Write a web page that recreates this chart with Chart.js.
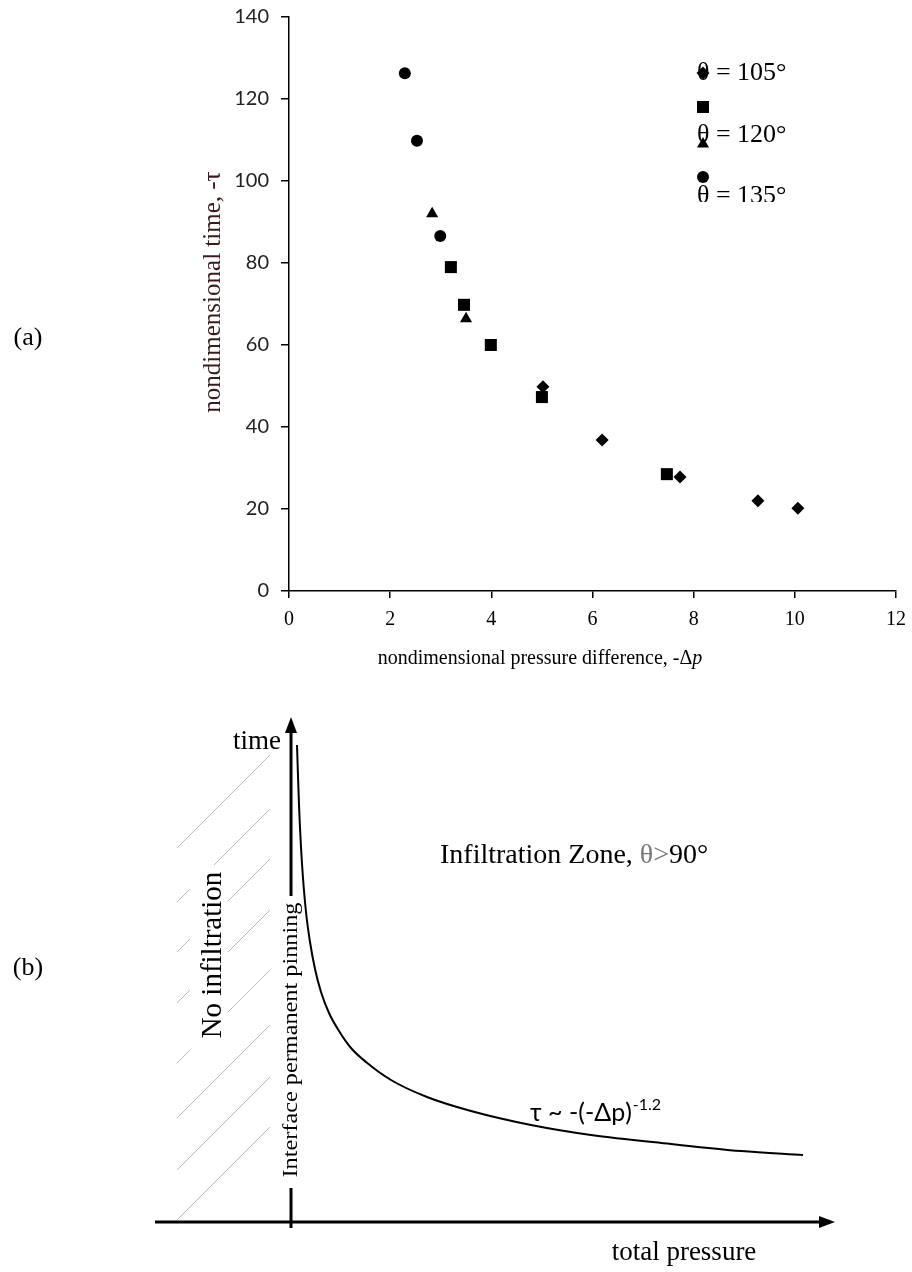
<!DOCTYPE html>
<html>
<head>
<meta charset="utf-8">
<script src="https://cdn.jsdelivr.net/npm/chart.js@4.4.0/dist/chart.umd.min.js"></script>
<style>
  html, body { margin: 0; padding: 0; background: #fff; }
  #wrap { position: relative; width: 912px; height: 1272px; overflow: hidden; }
  #chartA { position: absolute; left: 0; top: 0; }
  #chartB { position: absolute; left: 0; top: 690px; }
</style>
</head>
<body>
<div id="wrap">
  <canvas id="chartA" width="912" height="690"></canvas>
  <canvas id="chartB" width="912" height="582"></canvas>
</div>
<script>
const diamondX = [5.02, 6.19, 7.73, 9.27, 10.06];
const diamondY = [49.8, 36.8, 27.8, 22.0, 20.2];
const squareX = [3.20, 3.46, 3.99, 5.00, 7.47];
const squareY = [79.0, 69.8, 60.0, 47.3, 28.5];
const triangleX = [2.83, 3.50];
const triangleY = [92.0, 66.4];
const circleX = [2.29, 2.53, 2.99];
const circleY = [126.3, 109.8, 86.6];

const legendLabels = ['θ = 105°', '', 'θ = 120°', 'θ = 135°'];
const xTicksA = [0, 2, 4, 6, 8, 10, 12];
const yTicksA = [0, 20, 40, 60, 80, 100, 120, 140];

// (b) schematic curve, tau ~ -(-dp)^-1.2
const curveX = [0.06, 0.08, 0.10, 0.12, 0.15, 0.19, 0.24, 0.30, 0.38, 0.48, 0.60, 0.75, 1.00, 1.36, 1.80, 2.40, 3.00, 3.80, 4.50, 5.12];
const curveY = [4.77, 4.17, 3.75, 3.44, 3.10, 2.80, 2.53, 2.30, 2.09, 1.91, 1.74, 1.60, 1.42, 1.25, 1.11, 0.97, 0.87, 0.78, 0.71, 0.67];

const SERIF = '"Liberation Serif", "Times New Roman", serif';
const SANS = 'Lato, "Open Sans", sans-serif';

function toPoints(xs, ys) {
  return xs.map((x, i) => ({ x: x, y: ys[i] }));
}

// ---------- chart (a) ----------
const markerStyles = [
  { style: 'rectRot', radius: 6.5 },
  { style: 'rect', radius: 8.5 },
  { style: 'triangle', radius: 7 },
  { style: 'circle', radius: 6 }
];

function makeSet(label, xs, ys, m) {
  return {
    label: label,
    data: toPoints(xs, ys),
    pointStyle: m.style,
    pointRadius: m.radius,
    pointHoverRadius: m.radius,
    backgroundColor: '#000',
    borderColor: '#000',
    borderWidth: 0,
    showLine: false
  };
}

const decorA = {
  id: 'decorA',
  afterDraw(chart) {
    const ctx = chart.ctx;
    ctx.save();
    ctx.fillStyle = '#000';

    // panel tag
    ctx.font = '26px ' + SERIF;
    ctx.textAlign = 'center';
    ctx.textBaseline = 'middle';
    ctx.fillText('(a)', 28, 338);

    // y title
    ctx.save();
    ctx.translate(213, 292);
    ctx.rotate(-Math.PI / 2);
    ctx.fillStyle = '#3a1a1a';
    ctx.font = '25px ' + SERIF;
    ctx.fillText('nondimensional time, -τ', 0, 0);
    ctx.restore();

    // x title with italic p
    const partA = 'nondimensional pressure difference, -Δ';
    ctx.font = '20px ' + SERIF;
    const wA = ctx.measureText(partA).width;
    ctx.font = 'italic 20px ' + SERIF;
    const wB = ctx.measureText('p').width;
    const x0 = 540 - (wA + wB) / 2;
    ctx.textAlign = 'left';
    ctx.font = '20px ' + SERIF;
    ctx.fillText(partA, x0, 659);
    ctx.font = 'italic 20px ' + SERIF;
    ctx.fillText('p', x0 + wA, 659);

    // legend: markers and (misplaced) labels as in the figure
    const legY = [73, 107, 144, 177];
    const txtY = [73, 107, 135, 196];
    markerStyles.forEach((m, i) => {
      Chart.helpers.drawPoint(ctx, { pointStyle: m.style, radius: m.radius, rotation: 0, borderWidth: 0 }, 703, legY[i]);
    });
    ctx.beginPath();
    ctx.rect(680, 40, 200, 162);
    ctx.clip();
    ctx.font = '26px ' + SERIF;
    ctx.textBaseline = 'middle';
    legendLabels.forEach((t, i) => {
      if (t) ctx.fillText(t, 697, txtY[i]);
    });
    ctx.restore();
  }
};

new Chart(document.getElementById('chartA'), {
  type: 'scatter',
  data: {
    datasets: [
      makeSet('θ = 105°', diamondX, diamondY, markerStyles[0]),
      makeSet('', squareX, squareY, markerStyles[1]),
      makeSet('θ = 120°', triangleX, triangleY, markerStyles[2]),
      makeSet('θ = 135°', circleX, circleY, markerStyles[3])
    ]
  },
  options: {
    responsive: false,
    animation: false,
    devicePixelRatio: 1,
    layout: { padding: { top: 17, right: 16, left: 0, bottom: 0 } },
    plugins: { legend: { display: false }, tooltip: { enabled: false } },
    scales: {
      x: {
        type: 'linear', min: 0, max: 12,
        afterBuildTicks: s => { s.ticks = xTicksA.map(v => ({ value: v })); },
        afterFit: s => { s.height = 99; s.paddingLeft = 0; s.paddingRight = 0; },
        ticks: { color: '#000', font: { family: SERIF, size: 20 }, padding: 10, maxRotation: 0 },
        grid: { drawOnChartArea: false, drawTicks: true, tickLength: 7, color: '#000', lineWidth: 1.5 },
        border: { color: '#000', width: 1.5 }
      },
      y: {
        type: 'linear', min: 0, max: 140,
        afterBuildTicks: s => { s.ticks = yTicksA.map(v => ({ value: v })); },
        afterFit: s => { s.width = 289; s.paddingTop = 0; s.paddingBottom = 0; },
        ticks: { color: '#222', font: { family: SANS, size: 20 }, padding: 12 },
        grid: { drawOnChartArea: false, drawTicks: true, tickLength: 8, color: '#000', lineWidth: 1.5 },
        border: { color: '#000', width: 1.5 }
      }
    }
  },
  plugins: [decorA]
});

// ---------- chart (b) ----------
function arrowHead(ctx, x, y, dir) {
  ctx.beginPath();
  if (dir === 'up') {
    ctx.moveTo(x, y);
    ctx.lineTo(x - 6, y + 16);
    ctx.lineTo(x + 6, y + 16);
  } else {
    ctx.moveTo(x, y);
    ctx.lineTo(x - 16, y - 6);
    ctx.lineTo(x - 16, y + 6);
  }
  ctx.closePath();
  ctx.fill();
}

const decorB = {
  id: 'decorB',
  beforeDatasetsDraw(chart) {
    const ctx = chart.ctx;
    const xs = chart.scales.x, ys = chart.scales.y;
    const ox = xs.getPixelForValue(0);
    const oy = ys.getPixelForValue(0);
    const top = chart.chartArea.top;
    const right = chart.chartArea.right;
    const left = chart.chartArea.left;
    ctx.save();

    // hatching of the no-infiltration zone
    ctx.strokeStyle = '#bdbdbd';
    ctx.lineWidth = 1;
    [158, 212, 262, 313, 373, 428, 480, 530].forEach(yl => {
      ctx.beginPath();
      ctx.moveTo(177, yl);
      ctx.lineTo(270, yl - 93);
      ctx.stroke();
    });
    ctx.fillStyle = '#fff';
    ctx.fillRect(190, 175, 38, 195);

    ctx.fillStyle = '#000';
    ctx.strokeStyle = '#000';
    ctx.lineWidth = 3;
    // x axis
    ctx.beginPath();
    ctx.moveTo(left, oy);
    ctx.lineTo(right - 12, oy);
    ctx.stroke();
    arrowHead(ctx, right, oy, 'right');
    // y axis, broken by the pinning label
    ctx.beginPath();
    ctx.moveTo(ox, top + 12);
    ctx.lineTo(ox, 206);
    ctx.moveTo(ox, 498);
    ctx.lineTo(ox, oy + 6);
    ctx.stroke();
    arrowHead(ctx, ox, top, 'up');

    // texts
    ctx.textBaseline = 'middle';
    ctx.textAlign = 'center';
    ctx.font = '26px ' + SERIF;
    ctx.fillText('(b)', 28, 278);

    ctx.textAlign = 'right';
    ctx.font = '27px ' + SERIF;
    ctx.fillText('time', 281, 52);

    ctx.textAlign = 'center';
    ctx.font = '27px ' + SERIF;
    ctx.fillText('total pressure', 684, 563);

    ctx.save();
    ctx.translate(213, 265);
    ctx.rotate(-Math.PI / 2);
    ctx.font = '29px ' + SERIF;
    ctx.fillText('No infiltration', 0, 0);
    ctx.restore();

    ctx.save();
    ctx.translate(ox, 350);
    ctx.rotate(-Math.PI / 2);
    ctx.font = '21px ' + SERIF;
    const pin = 'Interface permanent pinning';
    const pw = ctx.measureText(pin).width;
    ctx.scale(275 / pw, 1);
    ctx.fillText(pin, 0, 0);
    ctx.restore();

    // zone label
    ctx.textAlign = 'left';
    ctx.textBaseline = 'alphabetic';
    ctx.font = '28px ' + SERIF;
    let zx = 440;
    const z1 = 'Infiltration Zone, ';
    ctx.fillText(z1, zx, 173);
    zx += ctx.measureText(z1).width;
    ctx.fillStyle = '#777';
    ctx.fillText('θ>', zx, 173);
    zx += ctx.measureText('θ>').width;
    ctx.fillStyle = '#000';
    ctx.fillText('90°', zx, 173);

    // power law label
    ctx.font = '25px ' + SANS;
    const law = 'τ ~ -(-Δp)';
    ctx.fillText(law, 530, 431);
    const lw = ctx.measureText(law).width;
    ctx.font = '16px ' + SANS;
    ctx.fillText('-1.2', 530 + lw + 1, 420);

    ctx.restore();
  }
};

new Chart(document.getElementById('chartB'), {
  type: 'line',
  data: {
    datasets: [{
      data: toPoints(curveX, curveY),
      borderColor: '#000',
      borderWidth: 2,
      pointRadius: 0,
      fill: false,
      cubicInterpolationMode: 'monotone'
    }]
  },
  options: {
    responsive: false,
    animation: false,
    devicePixelRatio: 1,
    layout: { padding: { left: 155, right: 77, top: 27, bottom: 50 } },
    plugins: { legend: { display: false }, tooltip: { enabled: false } },
    scales: {
      x: { type: 'linear', min: -1.36, max: 5.44, display: false },
      y: { type: 'linear', min: 0, max: 5.05, display: false }
    }
  },
  plugins: [decorB]
});
</script>
</body>
</html>
